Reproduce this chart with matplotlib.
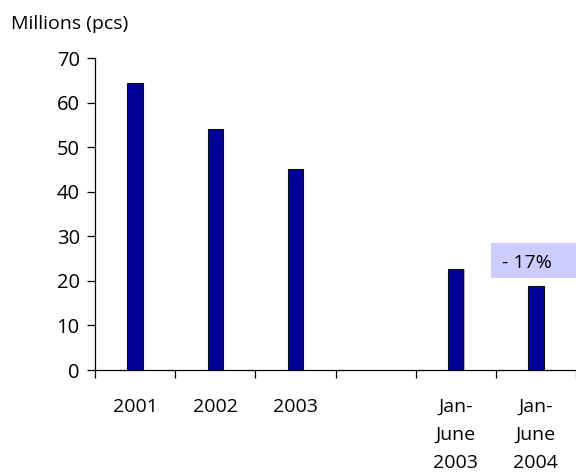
import numpy as np
import matplotlib
matplotlib.use("Agg")
import matplotlib.pyplot as plt
from matplotlib.patches import Rectangle

categories = ["2001", "2002", "2003", "", "Jan-\nJune\n2003", "Jan-\nJune\n2004"]
values = [64.5, 54, 45, np.nan, 22.7, 18.8]
change_label = "- 17%"

plt.rcParams["font.family"] = ["Open Sans", "DejaVu Sans"]

fig = plt.figure(figsize=(5.76, 4.75), dpi=100)
ax = fig.add_axes([95 / 576, 1 - 370 / 475, 481 / 576, 312 / 475])

x = np.arange(len(categories)) + 0.5
# soft grey shadow to the right of each bar
ax.bar(x + 0.018, values, width=0.19, color="#BBBBBB", edgecolor="none",
       zorder=2.5)
ax.bar(x, values, width=0.19, color="#000099", edgecolor="#111111",
       linewidth=0.8, zorder=3)

ax.set_xlim(0, len(categories))
ax.set_ylim(0, 70)
ax.set_yticks(np.arange(0, 71, 10))

# category labels centred under the bars, ticks on the slot boundaries
ax.set_xticks(np.arange(0, len(categories) + 1), minor=False)
ax.set_xticklabels([])
ax.set_xticks(x, minor=True)
ax.set_xticklabels(categories, minor=True, fontsize=14, linespacing=1.74,
                   va="top")
ax.tick_params(axis="x", which="minor", length=0, pad=20)
ax.tick_params(axis="x", which="major", length=6, width=0.9, direction="out")
ax.tick_params(axis="y", length=6, width=0.9, direction="out",
               labelsize=14.5, pad=5)

for side in ("top", "right"):
    ax.spines[side].set_visible(False)
for side in ("left", "bottom"):
    ax.spines[side].set_linewidth(0.9)
    ax.spines[side].set_zorder(4)

fig.text(11 / 576, 1 - 24 / 475, "Millions (pcs)", fontsize=14,
         ha="left", va="center")

# highlighted change between the two half-year periods
ax.add_patch(Rectangle((4.94, 20.7), 1.06, 7.9, facecolor="#CCCCFF",
                       edgecolor="none", clip_on=False, zorder=2))
ax.text(5.08, 24.0, change_label, fontsize=14, ha="left", va="center",
        zorder=4)

fig.savefig("out.png", dpi=100)
